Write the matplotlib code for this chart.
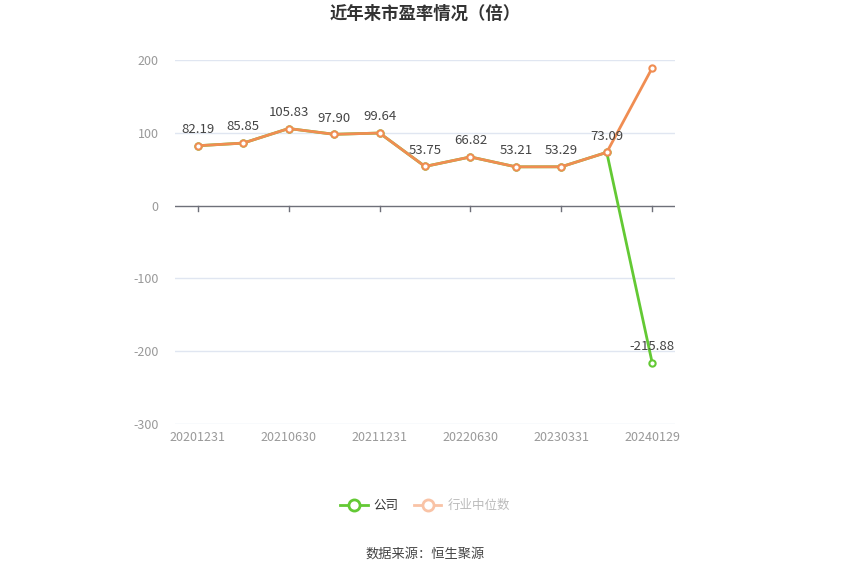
import matplotlib
matplotlib.use('Agg')
import matplotlib.pyplot as plt
from matplotlib.lines import Line2D

plt.rcParams['font.family'] = ['Noto Sans CJK SC', 'DejaVu Sans']

# data
dates = ['20201231', '20210331', '20210630', '20210930', '20211231', '20220331',
         '20220630', '20220930', '20230331', '20230930', '20240129']
company_pe = [82.19, 85.85, 105.83, 97.90, 99.64, 53.75, 66.82, 53.21, 53.29, 73.09, -215.88]
industry_pe = [82.19, 85.85, 105.83, 97.90, 99.64, 53.75, 66.82, 53.21, 53.29, 73.09, 189.0]
y_ticks = [-300, -200, -100, 0, 100, 200]

green = '#63c934'
orange = '#f08d52'

fig = plt.figure(figsize=(8.5, 5.75), dpi=100)
ax = fig.add_axes([0.206, 0.2626, 0.588, 0.6331])

x = list(range(len(dates)))
ax.plot(x, company_pe, color=green, lw=2, marker='o', markersize=4.5,
        markerfacecolor='white', markeredgewidth=1.5, zorder=3)
ax.plot(x, industry_pe, color=orange, lw=2, marker='o', markersize=4.5,
        markerfacecolor='white', markeredgewidth=1.5, zorder=4)

# value labels for company
for xi, v in zip(x, company_pe):
    ax.annotate(f'{v:.2f}', (xi, v), xytext=(0, 7), textcoords='offset points',
                ha='center', va='bottom', fontsize=9.5, color='#444444', zorder=5)

ax.set_xlim(-0.5, len(dates) - 0.5)
ax.set_ylim(-300, 200)
ax.set_yticks(y_ticks)
ax.set_yticklabels([str(t) for t in y_ticks], fontsize=9, color='#999999')
ax.tick_params(axis='y', length=0, pad=12)

for t in y_ticks:
    if t != 0:
        ax.axhline(t, color='#e0e6f1', lw=1, zorder=1)
ax.axhline(0, color='#6e7079', lw=1, zorder=2)

# x ticks drawn below the zero line, labels at the bottom
ax.set_xticks([])
for xi in x[::2]:
    ax.plot([xi, xi], [0, -7], color='#6e7079', lw=1, zorder=2, clip_on=False)
    ax.text(xi, -309, dates[xi], ha='center', va='top', fontsize=9, color='#999999')

for s in ax.spines.values():
    s.set_visible(False)

fig.text(0.5, 0.976, '近年来市盈率情况（倍）', ha='center', va='center',
         fontsize=12.5, fontweight='bold', color='#333333')

handles = [
    Line2D([0], [0], color=green, lw=2, marker='o', markersize=8,
           markerfacecolor='white', markeredgewidth=2),
    Line2D([0], [0], color='#f9c3a6', lw=2, marker='o', markersize=8,
           markerfacecolor='white', markeredgewidth=2),
]
leg = fig.legend(handles, ['公司', '行业中位数'], loc='center', bbox_to_anchor=(0.5, 0.121),
                 ncol=2, frameon=False, fontsize=9, handlelength=2.2,
                 columnspacing=1.2, handletextpad=0.5)
leg.get_texts()[0].set_color('#333333')
leg.get_texts()[1].set_color('#bbbbbb')

fig.text(0.5, 0.037, '数据来源：恒生聚源', ha='center', va='center',
         fontsize=9.5, color='#444444')

fig.savefig('out.png', dpi=100)
